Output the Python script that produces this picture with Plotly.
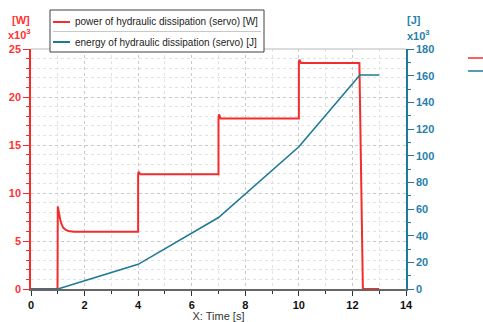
import plotly.graph_objects as go

# ---- data ----
time_power = [0, 0.99, 1.0, 1.02, 1.05, 1.1, 1.15, 1.2, 1.3, 1.4, 1.6, 4.0, 4.0, 4.02, 4.08,
              7.0, 7.0, 7.02, 7.08, 10.0, 10.0, 10.02, 10.08, 12.26, 12.39, 13.0]
power_kw = [0, 0, 8.6, 8.3, 7.7, 7.1, 6.7, 6.4, 6.15, 6.05, 5.97, 5.97, 12.0, 12.2, 11.95,
            11.95, 17.8, 18.2, 17.75, 17.75, 23.6, 23.9, 23.55, 23.55, 0, 0]
time_energy = [0, 1.0, 4.0, 7.0, 10.0, 12.28, 13.0]
energy_kj = [0, 0, 18.5, 53.6, 106.7, 160.5, 160.5]

name_power = "power of hydraulic dissipation (servo) [W]"
name_energy = "energy of hydraulic dissipation (servo) [J]"
x_title = "X: Time [s]"

RED = "#f42c2c"
RED_TXT = "#ff3333"
TEAL = "#1f7a97"
TEAL_TXT = "#2a80ad"

W, H = 483, 322
L, R, T, B = 31, 406, 49, 289
def px(x):
    return (x - L) / (R - L)
def py(y):
    return (B - y) / (B - T)

fig = go.Figure()
fig.add_trace(go.Scatter(x=time_energy, y=energy_kj, name=name_energy, mode="lines",
                         line=dict(color=TEAL, width=1.6), yaxis="y2"))
fig.add_trace(go.Scatter(x=time_power, y=power_kw, name=name_power, mode="lines",
                         line=dict(color=RED, width=2)))

tickfont = dict(family="Liberation Sans", size=11, weight="bold")

fig.update_layout(
    width=W, height=H,
    margin=dict(l=L, r=W - R, t=T, b=H - B, pad=0),
    paper_bgcolor="white", plot_bgcolor="white",
    showlegend=False,
    font=dict(family="Liberation Sans", size=10, color="#333"),
    xaxis=dict(range=[0, 14], dtick=2, tick0=0, showline=True, linecolor="#666", linewidth=2,
               automargin=False,
               ticks="outside", ticklen=5, tickcolor="#333", tickwidth=1,
               tickfont=dict(tickfont, color="#111"),
               showgrid=True, gridcolor="#c8c8c8", griddash="dot", gridwidth=1,
               zeroline=False,
               minor=dict(dtick=1, ticks="outside", ticklen=3, tickcolor="#333",
                          showgrid=True, gridcolor="#e2e2e2", griddash="dot"),
               title=dict(text=x_title, font=dict(size=11, color="#333"), standoff=2)),
    yaxis=dict(range=[0, 25], dtick=5, tick0=0, showline=True, linecolor=RED, linewidth=1.5,
               automargin=False,
               ticks="outside", ticklen=6, tickcolor=RED, tickwidth=1,
               tickfont=dict(tickfont, color=RED_TXT), zeroline=False,
               showgrid=True, gridcolor="#c8c8c8", griddash="dot", gridwidth=1,
               minor=dict(dtick=1, ticks="outside", ticklen=3, tickcolor=RED,
                          showgrid=True, gridcolor="#e2e2e2", griddash="dot")),
    yaxis2=dict(range=[0, 180], dtick=20, tick0=0, overlaying="y", side="right",
                automargin=False,
                showline=True, linecolor=TEAL, linewidth=1.5,
                ticks="outside", ticklen=6, tickcolor=TEAL, tickwidth=1,
                tickfont=dict(tickfont, color=TEAL_TXT), showgrid=False, zeroline=False,
                minor=dict(dtick=10, ticks="outside", ticklen=3, tickcolor=TEAL)),
)

shapes = []
# top border of plot
shapes.append(dict(type="line", xref="paper", yref="paper", x0=0, x1=1, y0=1, y1=1,
                   line=dict(color="#d0d0d0", width=1.5), layer="above"))
# legend box
lx0, lx1, ly0, ly1 = 50, 264, 10, 52
shapes.append(dict(type="rect", xref="paper", yref="paper", x0=px(lx0), x1=px(lx1),
                   y0=py(ly1), y1=py(ly0), fillcolor="white",
                   line=dict(color="#404040", width=1), layer="above"))
shapes.append(dict(type="line", xref="paper", yref="paper", x0=px(53), x1=px(261),
                   y0=py(31.5), y1=py(31.5), line=dict(color="#c8c8c8", width=1), layer="above"))
shapes.append(dict(type="line", xref="paper", yref="paper", x0=px(53), x1=px(70),
                   y0=py(22), y1=py(22), line=dict(color=RED, width=2), layer="above"))
shapes.append(dict(type="line", xref="paper", yref="paper", x0=px(53), x1=px(70),
                   y0=py(42), y1=py(42), line=dict(color=TEAL, width=2), layer="above"))
# partial marks at right edge
shapes.append(dict(type="line", xref="paper", yref="paper", x0=px(468), x1=px(484),
                   y0=py(58), y1=py(58), line=dict(color=RED, width=1.5), layer="above"))
shapes.append(dict(type="line", xref="paper", yref="paper", x0=px(468), x1=px(484),
                   y0=py(71), y1=py(71), line=dict(color=TEAL, width=1.5), layer="above"))
fig.update_layout(shapes=shapes)

ann = []
ann.append(dict(text=name_power, xref="paper", yref="paper", x=px(73), y=py(22),
                xanchor="left", yanchor="middle", showarrow=False,
                font=dict(size=10, color="#222")))
ann.append(dict(text=name_energy, xref="paper", yref="paper", x=px(73), y=py(42),
                xanchor="left", yanchor="middle", showarrow=False,
                font=dict(size=10, color="#222")))
unitfont_r = dict(family="Liberation Sans", size=11, weight="bold", color=RED_TXT)
unitfont_t = dict(family="Liberation Sans", size=11, weight="bold", color=TEAL_TXT)
ann.append(dict(text="[W]", xref="paper", yref="paper", x=px(21), y=py(20),
                xanchor="center", yanchor="middle", showarrow=False, font=unitfont_r))
ann.append(dict(text="x10<sup>3</sup>", xref="paper", yref="paper", x=px(6), y=py(34),
                xanchor="left", yanchor="middle", showarrow=False, font=unitfont_r))
ann.append(dict(text="[J]", xref="paper", yref="paper", x=px(405), y=py(20),
                xanchor="left", yanchor="middle", showarrow=False, font=unitfont_t))
ann.append(dict(text="x10<sup>3</sup>", xref="paper", yref="paper", x=px(405), y=py(35),
                xanchor="left", yanchor="middle", showarrow=False, font=unitfont_t))
fig.update_layout(annotations=ann)

fig.write_html("out.html")
